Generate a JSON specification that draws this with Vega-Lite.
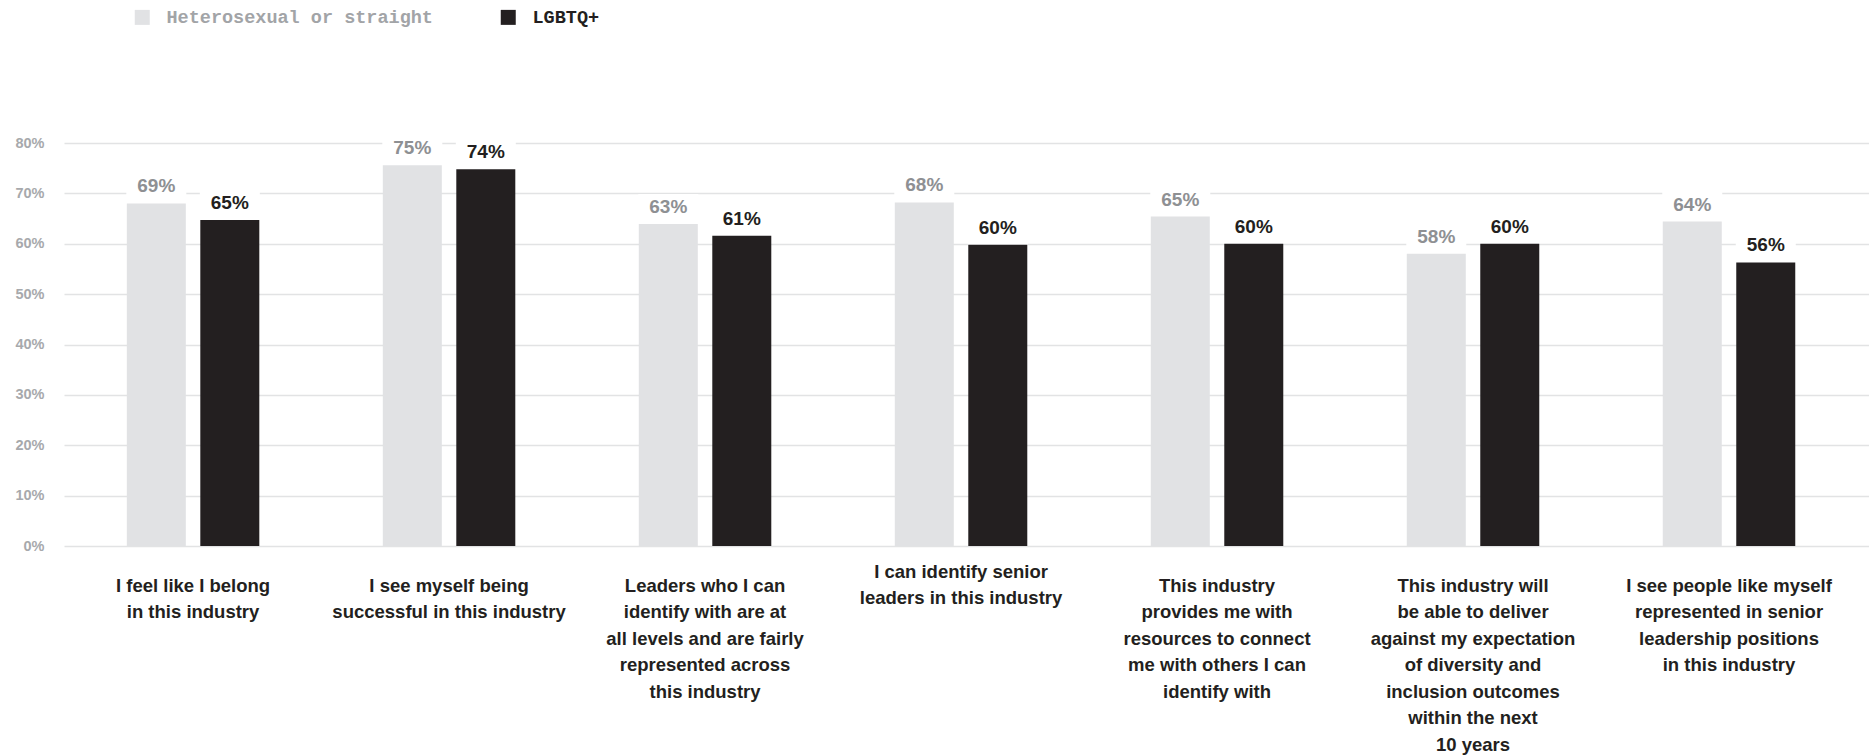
{
  "$schema": "https://vega.github.io/schema/vega-lite/v6.json",
  "width": 1805,
  "height": 403,
  "autosize": {"type": "none"},
  "padding": {"left": 64, "top": 143, "right": 0, "bottom": 210},
  "background": "white",
  "config": {"view": {"stroke": null}},
  "data": {
    "values": [
      {"statement": "I feel like I belong|in this industry", "group": "Heterosexual or straight", "value": 68.0, "label": "69%"},
      {"statement": "I feel like I belong|in this industry", "group": "LGBTQ+", "value": 64.7, "label": "65%"},
      {"statement": "I see myself being|successful in this industry", "group": "Heterosexual or straight", "value": 75.6, "label": "75%"},
      {"statement": "I see myself being|successful in this industry", "group": "LGBTQ+", "value": 74.8, "label": "74%"},
      {"statement": "Leaders who I can|identify with are at|all levels and are fairly|represented across|this industry", "group": "Heterosexual or straight", "value": 63.9, "label": "63%"},
      {"statement": "Leaders who I can|identify with are at|all levels and are fairly|represented across|this industry", "group": "LGBTQ+", "value": 61.6, "label": "61%"},
      {"statement": "I can identify senior|leaders in this industry", "group": "Heterosexual or straight", "value": 68.2, "label": "68%"},
      {"statement": "I can identify senior|leaders in this industry", "group": "LGBTQ+", "value": 59.8, "label": "60%"},
      {"statement": "This industry|provides me with|resources to connect|me with others I can|identify with", "group": "Heterosexual or straight", "value": 65.4, "label": "65%"},
      {"statement": "This industry|provides me with|resources to connect|me with others I can|identify with", "group": "LGBTQ+", "value": 60.0, "label": "60%"},
      {"statement": "This industry will|be able to deliver|against my expectation|of diversity and|inclusion outcomes|within the next|10 years", "group": "Heterosexual or straight", "value": 58.0, "label": "58%"},
      {"statement": "This industry will|be able to deliver|against my expectation|of diversity and|inclusion outcomes|within the next|10 years", "group": "LGBTQ+", "value": 60.0, "label": "60%"},
      {"statement": "I see people like myself|represented in senior|leadership positions|in this industry", "group": "Heterosexual or straight", "value": 64.4, "label": "64%"},
      {"statement": "I see people like myself|represented in senior|leadership positions|in this industry", "group": "LGBTQ+", "value": 56.3, "label": "56%"}
    ]
  },
  "encoding": {
    "x": {
      "field": "statement",
      "type": "nominal",
      "sort": null,
      "scale": {"paddingInner": 0.4824, "paddingOuter": 0.2667, "align": 0.46},
      "axis": {
        "title": null,
        "labelAngle": 0,
        "ticks": false,
        "domain": false,
        "grid": false,
        "labelExpr": "split(datum.label, '|')",
        "labelFont": "Liberation Sans",
        "labelFontWeight": "bold",
        "labelFontSize": 18.5,
        "labelColor": "#231f20",
        "labelLineHeight": 26.5,
        "labelBaseline": "top",
        "labelAlign": "center",
        "labelLimit": 0,
        "labelPadding": {"condition": {"test": "datum.value === 'I can identify senior|leaders in this industry'", "value": 16}, "value": 30}
      }
    },
    "xOffset": {
      "field": "group",
      "type": "nominal",
      "sort": ["Heterosexual or straight", "LGBTQ+"],
      "scale": {"paddingInner": 0.197, "paddingOuter": 0}
    },
    "y": {
      "field": "value",
      "type": "quantitative",
      "scale": {"domain": [0, 80], "nice": false},
      "axis": {
        "title": null,
        "values": [0, 10, 20, 30, 40, 50, 60, 70, 80],
        "labelExpr": "datum.value + '%'",
        "grid": true,
        "gridColor": "#e2e3e4",
        "gridWidth": 1.5,
        "domain": false,
        "ticks": false,
        "labelPadding": 20,
        "labelFont": "Liberation Sans",
        "labelFontWeight": "bold",
        "labelFontSize": 14.5,
        "labelColor": "#a7a9ac"
      }
    }
  },
  "layer": [
    {
      "mark": {"type": "tick", "orient": "horizontal", "thickness": 30, "size": 60, "yOffset": -15, "color": "white", "opacity": 1}
    },
    {
      "mark": {"type": "bar", "width": 59},
      "encoding": {
        "color": {
          "field": "group",
          "type": "nominal",
          "scale": {"domain": ["Heterosexual or straight", "LGBTQ+"], "range": ["#e1e2e4", "#231f20"]},
          "legend": {
            "title": null,
            "orient": "none",
            "direction": "horizontal",
            "legendX": 69,
            "legendY": -135,
            "symbolType": "square",
            "symbolSize": 225,
            "symbolStrokeWidth": 0,
            "labelFont": "Liberation Mono",
            "labelFontWeight": "bold",
            "labelFontSize": 18.5,
            "labelColor": {"expr": "datum.value === 'LGBTQ+' ? '#231f20' : '#a2a4a7'"},
            "labelOffset": 15,
            "columnPadding": 66,
            "labelLimit": 0
          }
        }
      }
    },
    {
      "mark": {"type": "text", "font": "Liberation Sans", "fontWeight": "bold", "fontSize": 19, "baseline": "alphabetic", "align": "center", "dy": -11},
      "encoding": {
        "text": {"field": "label"},
        "color": {"condition": {"test": "datum.group === 'LGBTQ+'", "value": "#231f20"}, "value": "#8e9093"}
      }
    }
  ]
}
